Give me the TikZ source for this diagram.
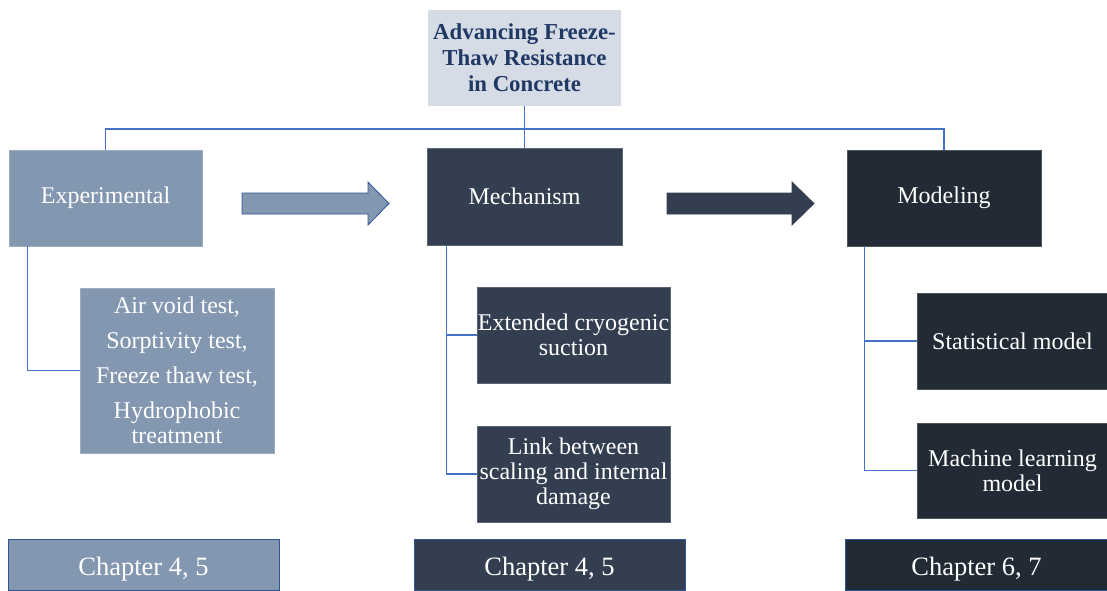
\documentclass[tikz,border=0pt]{standalone}
\usepackage{fontspec}
\setmainfont{Liberation Serif}
\definecolor{titlebg}{HTML}{D6DCE5}
\definecolor{titletx}{HTML}{1F3864}
\definecolor{expc}{HTML}{8497B0}
\definecolor{mechc}{HTML}{333F50}
\definecolor{modc}{HTML}{222A35}
\definecolor{linec}{HTML}{4472C4}
\definecolor{chborder}{HTML}{2F5597}
\tikzset{
  box/.style={rectangle, inner sep=0pt, align=center, text=white,
    font=\fontsize{24}{25}\selectfont, draw=#1!80!white, line width=0.6pt},
  chap/.style={rectangle, inner sep=0pt, align=center, text=white,
    font=\fontsize{26.5}{28}\selectfont, draw=chborder, line width=0.8pt,
    minimum width=271pt, minimum height=51pt, text height=20pt, text depth=0pt},
  conn/.style={draw=linec, line width=1.1pt},
  blockarrow/.style={line width=0.8pt}
}
\begin{document}
\begin{tikzpicture}[x=1pt,y=-1pt]
\useasboundingbox (0,0) rectangle (1107,590);
% title
\node[rectangle, fill=titlebg, inner sep=0pt, minimum width=193pt, minimum height=96pt,
  text=titletx, align=center, font=\fontsize{22.8}{26}\selectfont\bfseries] (t) at (524.5,58)
  {Advancing Freeze-\\Thaw Resistance\\in Concrete};
% main boxes
\node[box=expc, fill=expc, minimum width=193pt, minimum height=96pt] (exp) at (105.5,198) {Experimental};
\node[box=mechc, fill=mechc, minimum width=195pt, minimum height=97pt] (mech) at (524.5,196.5) {Mechanism};
\node[box=modc, fill=modc, minimum width=194pt, minimum height=96pt] (mod) at (944,198) {Modeling};
% sub boxes
\node[box=expc, fill=expc, minimum width=194pt, minimum height=165pt] (air) at (177,370.5)
  {Air void test,\\[10pt]Sorptivity test,\\[10pt]Freeze thaw test,\\[10pt]Hydrophobic\\treatment};
\node[box=mechc, fill=mechc, minimum width=193pt, minimum height=96pt] (ecs) at (573.5,335)
  {Extended cryogenic\\suction};
\node[box=mechc, fill=mechc, minimum width=193pt, minimum height=96pt] (link) at (573.5,474)
  {Link between\\scaling and internal\\damage};
\node[box=modc, fill=modc, minimum width=190pt, minimum height=96pt] (stat) at (1012.5,341)
  {Statistical model};
\node[box=modc, fill=modc, minimum width=190pt, minimum height=95pt] (ml) at (1012.5,470.5)
  {Machine learning\\model};
% chapter boxes
\node[chap, fill=expc] (c1) at (143.5,565) {Chapter 4, 5};
\node[chap, fill=mechc] (c2) at (549.5,565) {Chapter 4, 5};
\node[chap, fill=modc, minimum width=263pt] (c3) at (976.5,565) {Chapter 6, 7};
% tree connectors
\coordinate (bus) at (524.5,129);
\draw[conn] (t.south) -- (mech.north);
\draw[conn] (exp.north) |- (bus) -| (mod.north);
\draw[conn] ([xshift=19pt]exp.south west) |- (air.west);
\draw[conn] ([xshift=20pt]mech.south west) |- (link.west);
\draw[conn] ([xshift=20pt]mech.south west |- ecs.west) -- (ecs.west);
\draw[conn] ([xshift=18pt]mod.south west) |- (ml.west);
\draw[conn] ([xshift=18pt]mod.south west |- stat.west) -- (stat.west);
% block arrows
\draw[blockarrow, fill=expc, draw=chborder]
  (242,193) -- (368,193) -- (368,182) -- (389,203.5) -- (368,225) -- (368,214) -- (242,214) -- cycle;
\draw[blockarrow, fill=mechc, draw=mechc]
  (667,193) -- (792,193) -- (792,182) -- (814,203.5) -- (792,225) -- (792,214) -- (667,214) -- cycle;
\end{tikzpicture}
\end{document}
